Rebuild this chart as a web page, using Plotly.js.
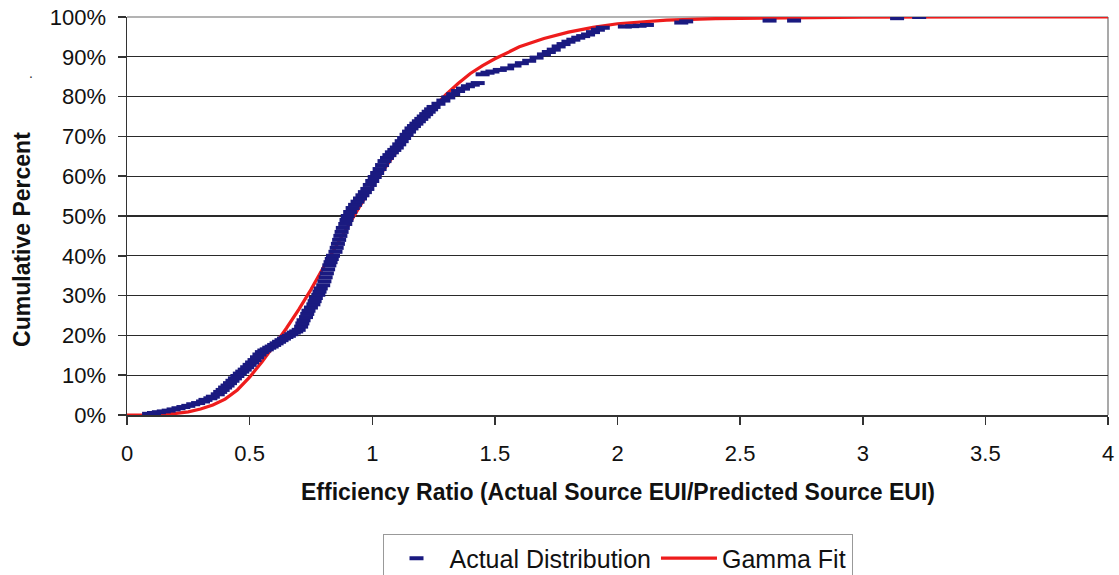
<!DOCTYPE html>
<html>
<head>
<meta charset="utf-8">
<script src="https://cdn.plot.ly/plotly-3.0.1.min.js"></script>
<style>html,body{margin:0;padding:0;background:#fff;}#chart{width:1119px;height:575px;}</style>
</head>
<body>
<div id="chart"></div>
<script>
// Actual distribution (cumulative %)
const actualX = [0.09,0.11,0.13,0.15,0.17,0.19,0.21,0.23,0.25,0.27,0.29,0.31,0.32,0.34,0.35,0.37,0.38,0.39,0.40,0.41,
0.42,0.43,0.44,0.45,0.46,0.47,0.48,0.49,0.50,0.51,0.52,0.53,0.54,0.55,0.56,0.57,0.58,0.59,0.60,0.61,
0.62,0.63,0.64,0.65,0.66,0.67,0.68,0.69,0.70,0.71,0.715,0.72,0.73,0.735,0.74,0.75,0.76,0.765,0.77,0.78,
0.785,0.79,0.80,0.805,0.81,0.815,0.82,0.825,0.83,0.835,0.84,0.85,0.855,0.86,0.865,0.87,0.875,0.88,0.89,0.895,
0.90,0.91,0.92,0.93,0.94,0.95,0.96,0.97,0.98,0.99,1.00,1.01,1.02,1.03,1.04,1.05,1.06,1.07,1.08,1.09,
1.10,1.11,1.12,1.13,1.14,1.15,1.16,1.17,1.18,1.19,1.20,1.21,1.22,1.23,1.24,1.25,1.27,1.29,1.31,1.33,
1.35,1.37,1.39,1.41,1.43,1.45,1.47,1.49,1.52,1.55,1.58,1.61,1.64,1.67,1.70,1.72,1.74,1.76,1.78,1.80,
1.82,1.84,1.86,1.88,1.90,1.92,1.94,2.03,2.06,2.09,2.12,2.26,2.28,2.62,2.72,3.14,3.23];
const actualY = [0.3,0.5,0.7,0.9,1.1,1.4,1.7,2.0,2.3,2.7,3.0,3.4,3.8,4.2,4.6,5.2,5.8,6.3,6.9,7.4,
8.0,8.6,9.2,9.8,10.4,10.9,11.4,12.0,12.6,13.2,13.8,14.5,15.2,15.8,16.2,16.5,16.9,17.2,17.6,18.0,
18.4,18.8,19.2,19.6,19.9,20.3,20.7,21.0,21.4,22.2,23.0,23.8,24.6,25.4,26.2,27.0,27.8,28.6,29.4,30.2,
31.0,31.8,32.6,33.6,34.6,35.6,36.6,37.6,38.4,39.2,40.0,41.0,42.0,43.0,44.0,45.0,46.0,47.0,48.0,49.0,
50.0,51.0,52.0,52.8,53.6,54.4,55.2,56.0,56.8,57.8,58.8,59.8,60.8,61.8,62.8,63.8,64.6,65.3,66.0,66.6,
67.2,68.0,68.8,69.6,70.4,71.2,72.0,72.6,73.2,73.8,74.4,75.0,75.6,76.2,76.8,77.4,78.2,79.0,79.8,80.6,
81.4,82.0,82.6,83.0,83.4,85.6,86.0,86.3,86.7,87.1,87.8,88.4,89.0,89.8,90.6,91.2,91.8,92.6,93.2,93.8,
94.3,94.8,95.2,95.6,96.2,96.8,97.3,97.6,97.7,97.8,98.0,98.6,98.9,99.1,99.1,99.7,100.0];

// Gamma fit (cumulative %)
const gammaX = [0,0.1,0.2,0.25,0.3,0.35,0.4,0.45,0.5,0.55,0.6,0.65,0.7,0.75,0.8,0.85,0.9,0.95,1.0,1.05,
1.1,1.15,1.2,1.25,1.3,1.35,1.4,1.45,1.5,1.6,1.7,1.8,1.9,2.0,2.2,2.4,2.7,3.0,3.5,4.0];
const gammaY = [0,0.05,0.4,0.8,1.5,2.5,4.0,6.3,9.5,13.3,17.5,21.8,26.5,31.5,37.0,42.2,47.5,52.5,57.5,62.0,
66.3,70.3,74.0,77.3,80.5,83.3,85.8,87.8,89.5,92.5,94.6,96.2,97.4,98.3,99.2,99.6,99.85,99.95,100,100];

const xTicks = [0,0.5,1,1.5,2,2.5,3,3.5,4];
const xTickText = ['0','0.5','1','1.5','2','2.5','3','3.5','4'];

const FONT = '"Liberation Sans", Arial, sans-serif';

const traces = [
  {
    x: gammaX, y: gammaY, type: 'scatter', mode: 'lines', name: 'Gamma Fit',
    line: {color: '#ee1c1c', width: 3.2}
  },
  {
    x: actualX, y: actualY, type: 'scatter', mode: 'markers', name: 'Actual Distribution',
    marker: {symbol: 'line-ew', size: 10, color: '#1a1a80', line: {color: '#1a1a80', width: 4}}
  }
];

const layout = {
  width: 1119, height: 575,
  margin: {l: 127, r: 11, t: 17, b: 160, pad: 0, autoexpand: false},
  paper_bgcolor: '#ffffff', plot_bgcolor: '#ffffff',
  font: {family: FONT, color: '#111111', size: 22},
  showlegend: true,
  legend: {
    orientation: 'h', x: 0.5, xanchor: 'center', y: -0.3, yanchor: 'top',
    bordercolor: '#999999', borderwidth: 1, bgcolor: '#ffffff',
    font: {family: FONT, size: 25, color: '#111111'},
    itemwidth: 56, traceorder: 'reversed'
  },
  xaxis: {
    range: [0, 4], tickvals: xTicks, ticktext: xTickText,
    showgrid: false, zeroline: false,
    showline: true, linecolor: '#333333', linewidth: 1.5,
    ticks: 'outside', ticklen: 8, tickcolor: '#333333', tickwidth: 1.5,
    ticklabelstandoff: 10,
    tickfont: {family: FONT, size: 22, color: '#111111'}
  },
  yaxis: {
    range: [0, 100], dtick: 10, tick0: 0, ticksuffix: '%',
    showgrid: true, gridcolor: '#2a2a2a', gridwidth: 1.2,
    zeroline: false,
    showline: true, linecolor: '#333333', linewidth: 1.5,
    ticks: 'outside', ticklen: 8, tickcolor: '#333333', tickwidth: 1.5,
    ticklabelstandoff: 7,
    tickfont: {family: FONT, size: 22, color: '#111111'}
  },
  shapes: [
    {type: 'line', xref: 'paper', yref: 'paper', x0: 1, x1: 1, y0: 0, y1: 1, line: {color: '#8c8c8c', width: 1.5}, layer: 'below'},
    {type: 'line', xref: 'paper', yref: 'paper', x0: 0, x1: 1, y0: 1, y1: 1, line: {color: '#9a9a9a', width: 1.5}, layer: 'below'}
  ],
  annotations: [
    {text: '<b>Efficiency Ratio (Actual Source EUI/Predicted Source EUI)</b>', xref: 'paper', yref: 'paper',
     x: 0.5, y: -0.194, xanchor: 'center', yanchor: 'middle', showarrow: false,
     font: {family: FONT, size: 23, color: '#111111'}},
    {text: '<b>Cumulative Percent</b>', xref: 'paper', yref: 'paper', textangle: -90,
     x: -0.107, y: 0.44, xanchor: 'center', yanchor: 'middle', showarrow: false,
     font: {family: FONT, size: 23, color: '#111111'}},
    {text: '.', xref: 'paper', yref: 'paper', x: -0.098, y: 0.86, xanchor: 'center', yanchor: 'middle',
     showarrow: false, font: {family: FONT, size: 14, color: '#333333'}}
  ]
};

Plotly.newPlot('chart', traces, layout, {displayModeBar: false, staticPlot: true});
</script>
</body>
</html>
